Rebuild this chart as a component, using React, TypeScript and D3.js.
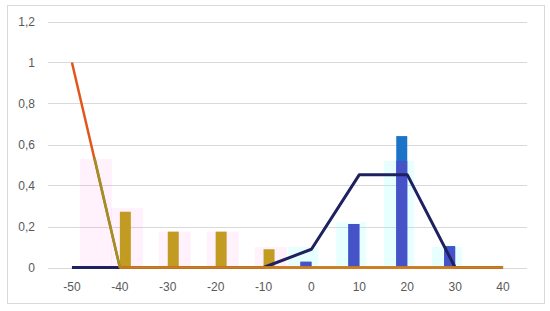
import React from 'react';
import * as d3 from 'd3';

// category labels on the x axis
const categories = [-50, -40, -30, -20, -10, 0, 10, 20, 30, 40];
const yTicks = [0, 0.2, 0.4, 0.6, 0.8, 1, 1.2];

// narrow bars
const goldBars = [0, 0.272, 0.175, 0.175, 0.089, 0, 0, 0, 0, 0];
const blueBars = [0, 0, 0, 0, 0, 0.028, 0.212, 0.641, 0.105, 0];

// faint wide bars (x in axis units)
const pinkX = [-45, -38.5, -28.5, -18.5, -8.5];
const pinkV = [0.53, 0.29, 0.175, 0.175, 0.1];
const cyanX = [-1.7, 8.3, 18.3, 28.3];
const cyanV = [0.1, 0.22, 0.52, 0.1];

// lines
const navyLine = [0, 0, 0, 0, 0, 0.089, 0.453, 0.453, 0, 0];
const orangeLine = [1, 0, 0, 0, 0, 0, 0, 0, 0, 0];
const oliveX = [-45.3, -40];
const oliveV = [0.535, 0];
const goldLineX = [-40, -30, -20, -10, 0, 10, 20, 30, 40];
const goldLineV = [0, 0, 0, 0, 0, 0, 0, 0, 0];

export default function App() {
  const W = 550, H = 311;
  const x = d3.scaleLinear().domain([-55, 45]).range([48, 527]);
  const y = d3.scaleLinear().domain([0, 1.2]).range([267.5, 21.5]);
  const barW = 11;
  const pinkW = 32, cyanW = 30;
  const font = '"Liberation Sans", Arial, sans-serif';

  const line = d3.line<[number, number]>().x(d => x(d[0])).y(d => y(d[1]));
  const pts = (xs: number[], vs: number[]) => xs.map((v, i) => [v, vs[i]] as [number, number]);

  return (
    <svg width={W} height={H} style={{ position: 'absolute', left: 0, top: 0, background: '#fff' }}>
      <rect x={7.5} y={5.5} width={537} height={298} fill="#fff" stroke="#d9d9d9" />
      {yTicks.map(t => (
        <g key={t}>
          <line x1={48} x2={527} y1={Math.round(y(t)) + 0.5} y2={Math.round(y(t)) + 0.5} stroke="#d9d9d9" />
          <text x={35} y={y(t) + 4.5} textAnchor="end" fontSize={12} fontFamily={font} fill="#595959">
            {String(t).replace('.', ',')}
          </text>
        </g>
      ))}
      {categories.map(c => (
        <text key={c} x={x(c)} y={291} textAnchor="middle" fontSize={12} fontFamily={font} fill="#595959">{c}</text>
      ))}
      {pinkX.map((px, i) => (
        <rect key={'p' + i} x={x(px) - pinkW / 2} y={y(pinkV[i])} width={pinkW} height={y(0) - y(pinkV[i])} fill="#ff80e0" fillOpacity={0.1} />
      ))}
      {cyanX.map((cx, i) => (
        <rect key={'c' + i} x={x(cx) - cyanW / 2} y={y(cyanV[i])} width={cyanW} height={y(0) - y(cyanV[i])} fill="#80ffff" fillOpacity={0.18} />
      ))}
      {categories.map((c, i) => goldBars[i] > 0 && (
        <rect key={'g' + c} x={x(c)} y={y(goldBars[i])} width={barW} height={y(0) - y(goldBars[i])} fill="#c29c22" />
      ))}
      {categories.map((c, i) => {
        if (blueBars[i] <= 0) return null;
        const ci = cyanX.findIndex(cx => Math.abs(cx - c) < 3);
        const lower = ci >= 0 ? Math.min(blueBars[i], cyanV[ci]) : blueBars[i];
        return (
          <g key={'b' + c}>
            <rect x={x(c) - barW} y={y(blueBars[i])} width={barW} height={y(0) - y(blueBars[i])} fill="#1b74c7" />
            <rect x={x(c) - barW} y={y(lower)} width={barW} height={y(0) - y(lower)} fill="#4652c8" />
          </g>
        );
      })}
      <path d={line(pts(categories, navyLine)) || ''} fill="none" stroke="#1d2160" strokeWidth={3} strokeLinejoin="round" />
      <path d={line(pts(categories, orangeLine)) || ''} fill="none" stroke="#e3561b" strokeWidth={2.5} strokeLinejoin="round" />
      <path d={line(pts(oliveX, oliveV)) || ''} fill="none" stroke="#9c9226" strokeWidth={2.5} />
      <path d={line(pts(goldLineX, goldLineV)) || ''} fill="none" stroke="#c8801e" strokeWidth={2.5} />
    </svg>
  );
}
